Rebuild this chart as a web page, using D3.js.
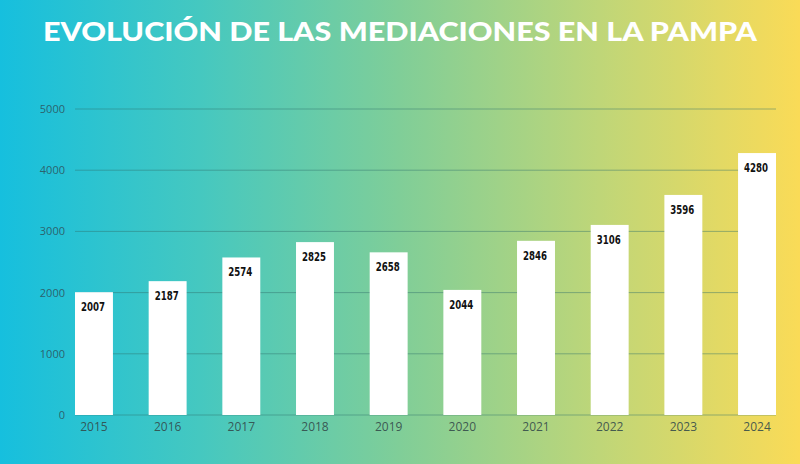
<!DOCTYPE html>
<html><head><meta charset="utf-8">
<script src="https://cdn.jsdelivr.net/npm/d3@7/dist/d3.min.js"></script>
<style>html,body{margin:0;padding:0;overflow:hidden;}</style>
</head><body>
<script>
const years = ["2015","2016","2017","2018","2019","2020","2021","2022","2023","2024"];
const mediaciones = [2007, 2187, 2574, 2825, 2658, 2044, 2846, 3106, 3596, 4280];
const yTicks = [0, 1000, 2000, 3000, 4000, 5000];
const title = "EVOLUCIÓN DE LAS MEDIACIONES EN LA PAMPA";

const W = 800, H = 464;
const svg = d3.select("body").append("svg").attr("width", W).attr("height", H);
const defs = svg.append("defs");
const grad = defs.append("linearGradient").attr("id","bg").attr("x1","0").attr("x2","1").attr("y1","0").attr("y2","0");
grad.append("stop").attr("offset","0%").attr("stop-color","#16bfde");
grad.append("stop").attr("offset","25%").attr("stop-color","#45c8c0");
grad.append("stop").attr("offset","50%").attr("stop-color","#80ce98");
grad.append("stop").attr("offset","75%").attr("stop-color","#bfd678");
grad.append("stop").attr("offset","100%").attr("stop-color","#fadb57");
svg.append("rect").attr("width",W).attr("height",H).attr("fill","url(#bg)");

svg.append("text").attr("x", 400).attr("y", 41).attr("text-anchor","middle")
  .attr("font-family","Lato, 'Open Sans', sans-serif").attr("font-weight", 900)
  .attr("font-size", 26).attr("fill","#ffffff")
  .attr("textLength", 714).attr("lengthAdjust","spacingAndGlyphs")
  .text(title);

const x = d3.scaleBand().domain(years).range([75, 776]).paddingInner(0.485).paddingOuter(0);
const y = d3.scaleLinear().domain([0, 5000]).range([415, 109]);

// gridlines
const gridG = svg.append("g");
gridG.selectAll("line").data(yTicks).join("line")
  .attr("x1", 75).attr("x2", 776)
  .attr("y1", d => y(d)).attr("y2", d => y(d))
  .attr("stroke", "#2f6f6a").attr("stroke-opacity", 0.45).attr("stroke-width", 1);

// y axis labels
const yAxis = d3.axisLeft(y).tickValues(yTicks).tickSize(0).tickPadding(0).tickFormat(d3.format("d"));
const yg = svg.append("g").attr("transform","translate(65,0)").call(yAxis);
yg.select(".domain").remove();
yg.selectAll("text").attr("font-family","'Open Sans', sans-serif").attr("font-size", 11)
  .attr("fill","#2d5560").attr("fill-opacity",0.9);

// bars
svg.append("g").selectAll("rect").data(years).join("rect")
  .attr("x", d => x(d)).attr("width", x.bandwidth())
  .attr("y", (d,i) => y(mediaciones[i])).attr("height", (d,i) => y(0) - y(mediaciones[i]))
  .attr("fill", "#ffffff");

// value labels
svg.append("g").selectAll("text").data(years).join("text")
  .attr("x", d => x(d) + x.bandwidth()/2 - 1)
  .attr("y", (d,i) => y(mediaciones[i]) + 19)
  .attr("text-anchor","middle")
  .attr("font-family","'DejaVu Sans Condensed', 'DejaVu Sans', sans-serif")
  .attr("font-weight","bold").attr("font-size", 11.5).attr("fill","#111111")
  .attr("textLength", 24).attr("lengthAdjust","spacingAndGlyphs")
  .text((d,i) => mediaciones[i]);

// x axis labels
const xAxis = d3.axisBottom(x).tickSize(0).tickPadding(0);
const xg = svg.append("g").attr("transform","translate(0,420)").call(xAxis);
xg.select(".domain").remove();
xg.selectAll("text").attr("font-family","'Open Sans', sans-serif").attr("font-size", 12)
  .attr("fill","#334a4a").attr("fill-opacity",0.9).attr("dy","0.9em");
</script>
</body></html>
